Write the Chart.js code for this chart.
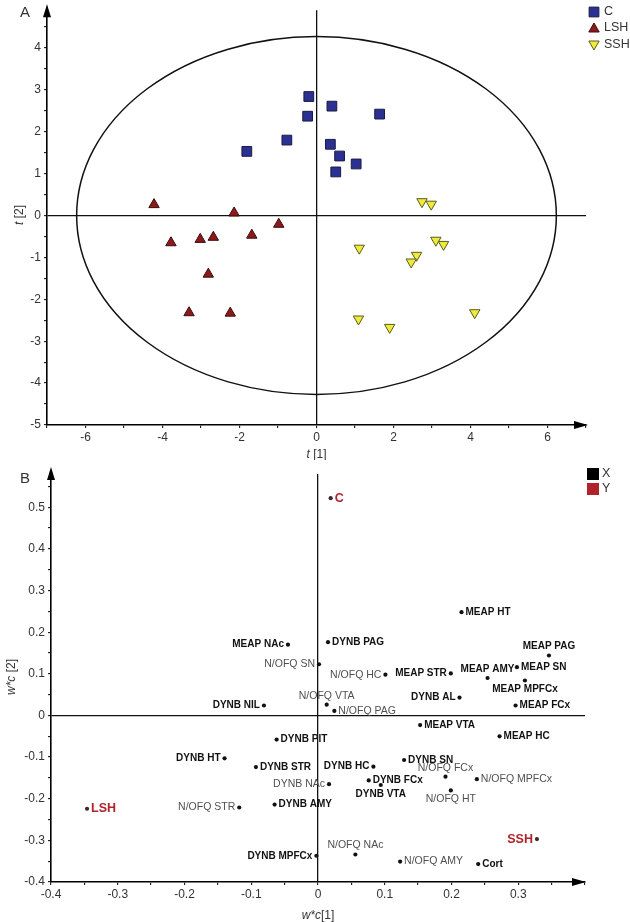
<!DOCTYPE html>
<html>
<head>
<meta charset="utf-8">
<script src="https://cdn.jsdelivr.net/npm/chart.js@4.4.1/dist/chart.umd.min.js"></script>
<style>
body { margin: 0; background: #fff; }
#wrapA { position: absolute; left: 0; top: 0; width: 630px; height: 460px; }
#wrapB { position: absolute; left: 0; top: 460px; width: 630px; height: 462px; }
</style>
</head>
<body>
<div id="wrapA"><canvas id="chartA" width="630" height="460"></canvas></div>
<div id="wrapB"><canvas id="chartB" width="630" height="462"></canvas></div>
<script>
// ---- panel A : scores ----
var groups = ['C', 'LSH', 'SSH'];
var cT1 = [-0.20, -0.23, -0.77, -1.81, 0.40, 1.64, 0.36, 0.60, 1.03, 0.50];
var cT2 = [2.84, 2.37, 1.80, 1.53, 2.61, 2.42, 1.70, 1.42, 1.23, 1.04];
var lshT1 = [-4.22, -3.78, -3.02, -2.68, -2.14, -1.68, -0.98, -2.81, -3.31, -2.24];
var lshT2 = [0.26, -0.65, -0.57, -0.52, 0.06, -0.47, -0.21, -1.40, -2.32, -2.33];
var sshT1 = [2.74, 2.98, 3.10, 3.30, 1.11, 2.60, 2.46, 1.09, 1.90, 4.11];
var sshT2 = [0.33, 0.27, -0.59, -0.69, -0.78, -0.95, -1.11, -2.47, -2.67, -2.32];
var ellipseT1 = 6.23, ellipseT2 = 4.27;
var scoreXTicks = [-6, -4, -2, 0, 2, 4, 6];
var scoreYTicks = [-5, -4, -3, -2, -1, 0, 1, 2, 3, 4];

// ---- panel B : loadings ----
var xNames = ['MEAP NAc', 'DYNB PAG', 'N/OFQ SN', 'N/OFQ HC', 'MEAP STR', 'MEAP HT', 'MEAP PAG',
  'MEAP SN', 'MEAP AMY', 'MEAP MPFCx', 'DYNB AL', 'MEAP FCx', 'N/OFQ VTA', 'N/OFQ PAG', 'DYNB NIL',
  'MEAP VTA', 'MEAP HC', 'DYNB PIT', 'DYNB HT', 'DYNB STR', 'DYNB SN', 'DYNB HC', 'N/OFQ FCx',
  'N/OFQ MPFCx', 'DYNB NAc', 'DYNB FCx', 'DYNB VTA', 'N/OFQ HT', 'DYNB AMY', 'N/OFQ STR',
  'DYNB MPFCx', 'N/OFQ NAc', 'N/OFQ AMY', 'Cort'];
var xW1 = [-0.045, 0.015, 0.0015, 0.101, 0.199, 0.215, 0.346,
  0.298, 0.254, 0.310, 0.212, 0.296, 0.013, 0.0245, -0.081,
  0.153, 0.272, -0.062, -0.140, -0.093, 0.129, 0.083, 0.191,
  0.238, 0.0165, 0.076, 0.094, 0.199, -0.065, -0.118,
  -0.0024, 0.056, 0.123, 0.240];
var xW2 = [0.170, 0.176, 0.123, 0.098, 0.101, 0.248, 0.144,
  0.116, 0.090, 0.084, 0.043, 0.024, 0.026, 0.011, 0.024,
  -0.023, -0.050, -0.058, -0.103, -0.124, -0.107, -0.123, -0.147,
  -0.153, -0.165, -0.156, -0.167, -0.180, -0.214, -0.221,
  -0.337, -0.334, -0.351, -0.357];
var yNames = ['C', 'LSH', 'SSH'];
var yW1 = [0.019, -0.346, 0.328];
var yW2 = [0.522, -0.224, -0.297];
var loadXTicks = [-0.4, -0.3, -0.2, -0.1, 0, 0.1, 0.2, 0.3];
var loadYTicks = [-0.4, -0.3, -0.2, -0.1, 0, 0.1, 0.2, 0.3, 0.4, 0.5];

// label placement (l = left, r = right, a = above, b = below)
var xSide = ['l', 'r', 'l', 'l', 'l', 'r', 'a',
  'r', 'a', 'b', 'l', 'r', 'a', 'r', 'l',
  'r', 'r', 'r', 'l', 'r', 'r', 'l', 'a',
  'r', 'l', 'r', 'b', 'b', 'r', 'l',
  'l', 'a', 'r', 'r'];
var ySide = ['r', 'r', 'l'];

var FONT = 'Liberation Sans, Arial, sans-serif';

function pts(xs, ys) {
  return xs.map(function (x, i) { return {x: x, y: ys[i]}; });
}

function fmtNum(v) {
  if (Math.abs(v) < 1e-9) return '0';
  return String(Math.round(v * 10) / 10);
}

function axis(pos, min, max, step, labels, size) {
  return {
    type: 'linear',
    position: pos,
    min: min,
    max: max,
    afterFit: function (s) {
      if (pos === 'left') s.width = size; else s.height = size;
    },
    ticks: {
      stepSize: step,
      includeBounds: false,
      autoSkip: false,
      maxRotation: 0,
      padding: pos === 'left' ? 3 : 2,
      color: '#333',
      font: {family: FONT, size: 12},
      callback: function (v) {
        for (var i = 0; i < labels.length; i++) {
          if (Math.abs(labels[i] - v) < step / 10) return fmtNum(labels[i]);
        }
        return '';
      }
    },
    grid: {
      drawOnChartArea: true,
      drawTicks: true,
      tickLength: 3,
      tickColor: '#000',
      tickWidth: 1,
      lineWidth: 1.3,
      color: function (c) {
        return c.tick && Math.abs(c.tick.value) < 1e-9 ? '#111' : 'rgba(0,0,0,0)';
      }
    },
    border: {display: true, color: '#000', width: 1.6}
  };
}

function mixedText(ctx, parts, x, y, rot) {
  ctx.save();
  ctx.translate(x, y);
  ctx.rotate(rot);
  var total = 0;
  parts.forEach(function (p) {
    ctx.font = (p[1] ? 'italic ' : '') + '12px ' + FONT;
    total += ctx.measureText(p[0]).width;
  });
  var cx = -total / 2;
  ctx.textBaseline = 'middle';
  ctx.textAlign = 'left';
  ctx.fillStyle = '#333';
  parts.forEach(function (p) {
    ctx.font = (p[1] ? 'italic ' : '') + '12px ' + FONT;
    ctx.fillText(p[0], cx, 0);
    cx += ctx.measureText(p[0]).width;
  });
  ctx.restore();
}

var axisArrows = {
  id: 'axisArrows',
  afterDraw: function (chart) {
    var a = chart.chartArea, ctx = chart.ctx;
    var o = chart.options.plugins.axisArrows;
    ctx.save();
    ctx.fillStyle = '#000';
    ctx.beginPath();
    ctx.moveTo(a.left, a.top - o.up);
    ctx.lineTo(a.left - 4, a.top - o.up + 13);
    ctx.lineTo(a.left + 4, a.top - o.up + 13);
    ctx.closePath();
    ctx.fill();
    ctx.beginPath();
    ctx.moveTo(a.right + o.right, a.bottom);
    ctx.lineTo(a.right + o.right - 14, a.bottom - 4);
    ctx.lineTo(a.right + o.right - 14, a.bottom + 4);
    ctx.closePath();
    ctx.fill();
    ctx.restore();
  }
};

var scoreDecor = {
  id: 'scoreDecor',
  beforeDatasetsDraw: function (chart) {
    var ctx = chart.ctx, xs = chart.scales.x, ys = chart.scales.y;
    var cx = xs.getPixelForValue(0), cy = ys.getPixelForValue(0);
    var rx = xs.getPixelForValue(ellipseT1) - cx;
    var ry = cy - ys.getPixelForValue(ellipseT2);
    ctx.save();
    ctx.strokeStyle = '#111';
    ctx.lineWidth = 1.5;
    ctx.beginPath();
    ctx.ellipse(cx, cy, rx, ry, 0, 0, Math.PI * 2);
    ctx.stroke();
    ctx.restore();
  },
  afterDraw: function (chart) {
    var ctx = chart.ctx;
    ctx.save();
    ctx.fillStyle = '#333';
    ctx.font = '15px ' + FONT;
    ctx.textAlign = 'center';
    ctx.textBaseline = 'middle';
    ctx.fillText('A', 25, 13);
    mixedText(ctx, [['t', true], [' [2]', false]], 20, 215, -Math.PI / 2);
    mixedText(ctx, [['t', true], [' [1]', false]], chart.scales.x.getPixelForValue(0), 455, 0);
    ctx.restore();
    // legend
    var ly = [12, 28, 45];
    ctx.save();
    chart.data.datasets.forEach(function (ds, i) {
      ctx.fillStyle = ds.backgroundColor;
      ctx.strokeStyle = ds.borderColor;
      ctx.lineWidth = 1;
      Chart.helpers.drawPoint(ctx, {
        pointStyle: ds.pointStyle, rotation: ds.rotation || 0, radius: ds.pointRadius,
        borderWidth: 1
      }, 594, ly[i] + (i === 1 ? 1 : (i === 2 ? -1 : 0)));
      ctx.fillStyle = '#333';
      ctx.font = '12.5px ' + FONT;
      ctx.textAlign = 'left';
      ctx.textBaseline = 'middle';
      ctx.fillText(ds.label, 604, ly[i]);
    });
    ctx.restore();
  }
};

var loadingDecor = {
  id: 'loadingDecor',
  afterDatasetsDraw: function (chart) {
    var ctx = chart.ctx;
    ctx.save();
    chart.data.datasets.forEach(function (ds, di) {
      var meta = chart.getDatasetMeta(di);
      meta.data.forEach(function (pt, i) {
        var name = ds.names[i], side = ds.sides[i];
        if (di === 1) {
          ctx.font = 'bold 12.5px ' + FONT;
          ctx.fillStyle = '#b0232a';
        } else if (name.indexOf('N/OFQ') === 0 || name === 'DYNB NAc') {
          ctx.font = '10.5px ' + FONT;
          ctx.fillStyle = '#505050';
        } else {
          ctx.font = 'bold 10px ' + FONT;
          ctx.fillStyle = '#111';
        }
        ctx.textBaseline = 'middle';
        var x = pt.x, y = pt.y;
        if (side === 'r') { ctx.textAlign = 'left'; x += 4; }
        else if (side === 'l') { ctx.textAlign = 'right'; x -= 4; }
        else if (side === 'a') { ctx.textAlign = 'center'; y -= 9; }
        else { ctx.textAlign = 'center'; y += 9; }
        ctx.fillText(name, x, y);
      });
    });
    ctx.restore();
  },
  afterDraw: function (chart) {
    var ctx = chart.ctx;
    ctx.save();
    ctx.fillStyle = '#333';
    ctx.font = '15px ' + FONT;
    ctx.textAlign = 'center';
    ctx.textBaseline = 'middle';
    ctx.fillText('B', 25, 19);
    mixedText(ctx, [['w*c', true], [' [2]', false]], 12, 217, -Math.PI / 2);
    mixedText(ctx, [['w*c', true], ['[1]', false]], chart.scales.x.getPixelForValue(0), 456, 0);
    // legend
    ctx.fillStyle = '#000';
    ctx.fillRect(587, 8, 12, 12);
    ctx.fillStyle = '#b0232a';
    ctx.fillRect(587, 23, 12, 12);
    ctx.fillStyle = '#333';
    ctx.font = '12.5px ' + FONT;
    ctx.textAlign = 'left';
    ctx.fillText('X', 602, 14);
    ctx.fillText('Y', 602, 29);
    ctx.restore();
  }
};

new Chart(document.getElementById('chartA').getContext('2d'), {
  type: 'scatter',
  data: {
    datasets: [{
      label: groups[0],
      data: pts(cT1, cT2),
      pointStyle: 'rect',
      pointRadius: 6.9,
      backgroundColor: '#2b3190',
      borderColor: '#1a1a48',
      borderWidth: 1
    }, {
      label: groups[1],
      data: pts(lshT1, lshT2),
      pointStyle: 'triangle',
      pointRadius: 6,
      backgroundColor: '#8b1a1c',
      borderColor: '#3e0a0a',
      borderWidth: 1
    }, {
      label: groups[2],
      data: pts(sshT1, sshT2),
      pointStyle: 'triangle',
      rotation: 180,
      pointRadius: 6,
      backgroundColor: '#eeec3a',
      borderColor: '#5a5a20',
      borderWidth: 1
    }]
  },
  options: {
    responsive: false,
    animation: false,
    layout: {padding: {top: 8, right: 44, left: 0, bottom: 0}},
    scales: {
      x: axis('bottom', -7, 7, 1, scoreXTicks, 35),
      y: axis('left', -5, 4.9, 0.5, scoreYTicks, 47)
    },
    plugins: {
      legend: {display: false},
      tooltip: {enabled: false},
      axisArrows: {up: 6, right: 2}
    }
  },
  plugins: [scoreDecor, axisArrows]
});

new Chart(document.getElementById('chartB').getContext('2d'), {
  type: 'scatter',
  data: {
    datasets: [{
      label: 'X',
      data: pts(xW1, xW2),
      names: xNames,
      sides: xSide,
      pointRadius: 2.1,
      backgroundColor: '#111',
      borderWidth: 0
    }, {
      label: 'Y',
      data: pts(yW1, yW2),
      names: yNames,
      sides: ySide,
      pointRadius: 2.1,
      backgroundColor: '#3a2a2a',
      borderWidth: 0
    }]
  },
  options: {
    responsive: false,
    animation: false,
    layout: {padding: {top: 14, right: 45, left: 0, bottom: 0}},
    scales: {
      x: axis('bottom', -0.4, 0.4, 0.05, loadXTicks, 40),
      y: axis('left', -0.4, 0.58, 0.05, loadYTicks, 51)
    },
    plugins: {
      legend: {display: false},
      tooltip: {enabled: false},
      axisArrows: {up: 7, right: 1}
    }
  },
  plugins: [loadingDecor, axisArrows]
});
</script>
</body>
</html>
